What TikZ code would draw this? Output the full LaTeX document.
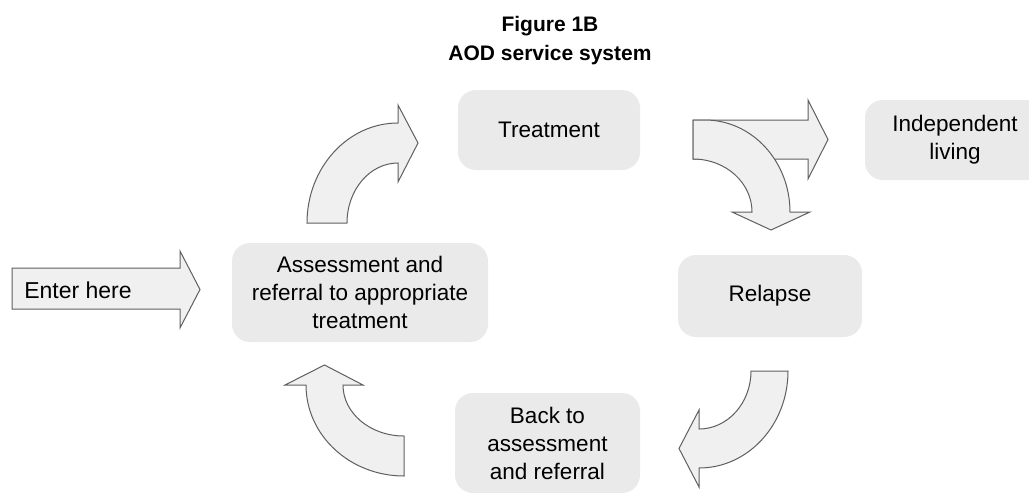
\documentclass[tikz,border=0pt]{standalone}
\usepackage{fontspec}
\setmainfont{Liberation Sans}
\definecolor{boxfill}{RGB}{234,234,234}
\definecolor{arrowfill}{RGB}{240,240,240}
\definecolor{arrowline}{RGB}{95,95,95}
\begin{document}
\begin{tikzpicture}[x=1pt,y=-1pt,
  box/.style={fill=boxfill, rounded corners=18pt, align=center,
    font=\fontsize{22.5}{28}\selectfont, inner sep=0pt},
  blockarrow/.style={fill=arrowfill, draw=arrowline, line width=1pt, line join=miter},
  lbl/.style={align=center, font=\fontsize{22.5}{28}\selectfont, inner sep=0pt}]
\useasboundingbox (0,0) rectangle (1029,493);
\clip (0,0) rectangle (1029,493);
\fill[white] (0,0) rectangle (1029,493);

% title
\node[align=center, font=\bfseries\fontsize{21}{29}\selectfont] (title) at (550,41) {Figure 1B\\AOD service system};

% boxes
\node[box, minimum width=256pt, minimum height=99pt] (assess) at (360,292.5) {Assessment and\\referral to appropriate\\treatment};
\node[box, minimum width=182pt, minimum height=80pt] (treat) at (549,130) {Treatment};
\node[box, minimum width=180pt, minimum height=80pt] (indep) at (955,140) {Independent\\living};
\node[box, minimum width=184pt, minimum height=82pt] (relapse) at (770,296) {Relapse};
\node[box, minimum width=185pt, minimum height=100pt] (back) at (547.5,443) {Back to\\assessment\\and referral};

% enter arrow
\draw[blockarrow] (12,268) -- (180,268) -- (180,251) -- (200,289.5) -- (180,328) -- (180,309) -- (12,309) -- cycle;
\node[lbl, font=\fontsize{23}{28}\selectfont] (enter) at (78,290) {Enter here};

% assessment -> treatment
\draw[blockarrow] (307,223) .. controls (307,167.8) and (347.7,123) .. (398,123)
  -- (398,105) -- (418,143) -- (398,182) -- (398,163)
  .. controls (369.8,163) and (347,189.9) .. (347,223) -- cycle;

% treatment -> independent living (straight)
\draw[blockarrow] (693,120) -- (808,120) -- (808,100) -- (828,139.5) -- (808,179) -- (808,159) -- (693,159) -- cycle;

% treatment -> relapse (curved)
\draw[blockarrow] (693,120) -- (705,120) .. controls (751.9,120) and (790,161.2) .. (790,212)
  -- (810,212) -- (771,230) -- (732,212) -- (752,212)
  .. controls (752,182.7) and (725.6,159) .. (693,159) -- cycle;

% relapse -> back
\draw[blockarrow] (751,371) -- (788,371) .. controls (788,424.6) and (748.2,468) .. (699,468)
  -- (699,487) -- (679,448.5) -- (699,410) -- (699,429)
  .. controls (727.7,429) and (751,403) .. (751,371) -- cycle;

% back -> assessment
\draw[blockarrow] (404,476) .. controls (349.9,476) and (306,435.3) .. (306,385)
  -- (285,385) -- (324.5,365) -- (363,385) -- (343,385)
  .. controls (343,413.2) and (370.3,436) .. (404,436) -- cycle;
\end{tikzpicture}
\end{document}
